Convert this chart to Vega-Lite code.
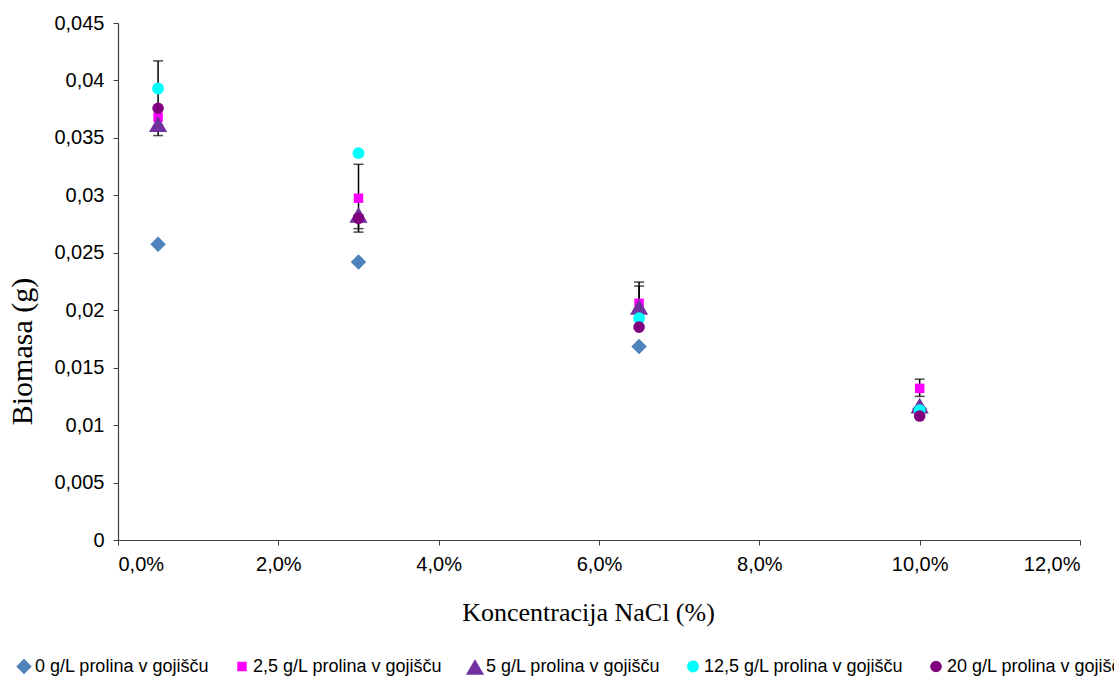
{
  "$schema": "https://vega.github.io/schema/vega-lite/v6.json",
  "autosize": {"type": "none"},
  "width": 962,
  "height": 517,
  "padding": {"left": 118, "top": 23, "right": 34, "bottom": 140},
  "background": "white",
  "config": {"view": {"stroke": null}, "font": "Liberation Sans"},
  "datasets": {
    "pts": [
      {"nacl": 0.005, "biomasa": 0.02575, "serija": "0 g/L prolina v gojišču"},
      {"nacl": 0.03, "biomasa": 0.0242, "serija": "0 g/L prolina v gojišču"},
      {"nacl": 0.065, "biomasa": 0.01685, "serija": "0 g/L prolina v gojišču"},
      {"nacl": 0.10, "biomasa": 0.0114, "serija": "0 g/L prolina v gojišču"},
      {"nacl": 0.005, "biomasa": 0.0368, "serija": "2,5 g/L prolina v gojišču"},
      {"nacl": 0.03, "biomasa": 0.02975, "serija": "2,5 g/L prolina v gojišču"},
      {"nacl": 0.065, "biomasa": 0.0206, "serija": "2,5 g/L prolina v gojišču"},
      {"nacl": 0.10, "biomasa": 0.0132, "serija": "2,5 g/L prolina v gojišču"},
      {"nacl": 0.005, "biomasa": 0.0362, "serija": "5 g/L prolina v gojišču"},
      {"nacl": 0.03, "biomasa": 0.0283, "serija": "5 g/L prolina v gojišču"},
      {"nacl": 0.065, "biomasa": 0.0203, "serija": "5 g/L prolina v gojišču"},
      {"nacl": 0.10, "biomasa": 0.0117, "serija": "5 g/L prolina v gojišču"},
      {"nacl": 0.005, "biomasa": 0.0393, "serija": "12,5 g/L prolina v gojišču"},
      {"nacl": 0.03, "biomasa": 0.03367, "serija": "12,5 g/L prolina v gojišču"},
      {"nacl": 0.065, "biomasa": 0.0193, "serija": "12,5 g/L prolina v gojišču"},
      {"nacl": 0.10, "biomasa": 0.0113, "serija": "12,5 g/L prolina v gojišču"},
      {"nacl": 0.005, "biomasa": 0.03758, "serija": "20 g/L prolina v gojišču"},
      {"nacl": 0.03, "biomasa": 0.0280, "serija": "20 g/L prolina v gojišču"},
      {"nacl": 0.065, "biomasa": 0.01853, "serija": "20 g/L prolina v gojišču"},
      {"nacl": 0.10, "biomasa": 0.01079, "serija": "20 g/L prolina v gojišču"}
    ],
    "err": [
      {"nacl": 0.005, "lo": 0.0352, "hi": 0.0417},
      {"nacl": 0.03, "lo": 0.0268, "hi": 0.0327},
      {"nacl": 0.03, "lo": 0.0271, "hi": 0.0283},
      {"nacl": 0.065, "lo": 0.0197, "hi": 0.02245},
      {"nacl": 0.065, "lo": 0.0197, "hi": 0.0221},
      {"nacl": 0.10, "lo": 0.0125, "hi": 0.0140}
    ]
  },
  "layer": [
    {
      "data": {"name": "err"},
      "mark": {"type": "rule", "color": "black", "strokeWidth": 1.5},
      "encoding": {
        "x": {"field": "nacl", "type": "quantitative"},
        "y": {"field": "lo", "type": "quantitative"},
        "y2": {"field": "hi"}
      }
    },
    {
      "data": {"name": "err"},
      "mark": {"type": "tick", "color": "black", "thickness": 1.5, "size": 10, "orient": "horizontal"},
      "encoding": {
        "x": {"field": "nacl", "type": "quantitative"},
        "y": {"field": "hi", "type": "quantitative"}
      }
    },
    {
      "data": {"name": "err"},
      "mark": {"type": "tick", "color": "black", "thickness": 1.5, "size": 10, "orient": "horizontal"},
      "encoding": {
        "x": {"field": "nacl", "type": "quantitative"},
        "y": {"field": "lo", "type": "quantitative"}
      }
    },
    {
      "data": {"name": "pts"},
      "mark": {"type": "point", "filled": true, "opacity": 1, "strokeWidth": 0},
      "encoding": {
        "x": {
          "field": "nacl", "type": "quantitative",
          "scale": {"domain": [0, 0.12], "nice": false, "zero": false},
          "axis": {
            "values": [0, 0.02, 0.04, 0.06, 0.08, 0.10, 0.12],
            "labelExpr": "replace(format(datum.value, '.1%'), '.', ',')",
            "grid": false, "domainColor": "#404040", "domainWidth": 1.2,
            "tickColor": "#404040", "tickSize": 5, "labelFontSize": 20, "labelColor": "black",
            "labelPadding": 9, "labelFont": "Liberation Sans",
            "title": "Koncentracija  NaCl (%)", "titleFont": "Liberation Serif", "titleFontSize": 26,
            "titleFontWeight": "normal", "titleColor": "black",
            "titleX": 470, "titleY": 72, "titleBaseline": "middle", "titleAnchor": "middle"
          }
        },
        "y": {
          "field": "biomasa", "type": "quantitative",
          "scale": {"domain": [0, 0.045], "nice": false},
          "axis": {
            "values": [0, 0.005, 0.01, 0.015, 0.02, 0.025, 0.03, 0.035, 0.04, 0.045],
            "labelExpr": "replace(format(datum.value, '.3~f'), '.', ',')",
            "grid": false, "domainColor": "#404040", "domainWidth": 1.2,
            "tickColor": "#404040", "tickSize": 5, "labelFontSize": 20, "labelColor": "black",
            "labelPadding": 9, "labelFont": "Liberation Sans",
            "title": "Biomasa  (g)", "titleFont": "Liberation Serif", "titleFontSize": 30,
            "titleFontWeight": "normal", "titleColor": "black",
            "titleX": -96, "titleY": 328, "titleBaseline": "middle", "titleAnchor": "middle"
          }
        },
        "color": {
          "field": "serija", "type": "nominal",
          "scale": {
            "domain": ["0 g/L prolina v gojišču", "2,5 g/L prolina v gojišču", "5 g/L prolina v gojišču", "12,5 g/L prolina v gojišču", "20 g/L prolina v gojišču"],
            "range": ["#4F81BD", "#FF00FF", "#7030A0", "#00FFFF", "#800080"]
          },
          "legend": {
            "orient": "none", "direction": "horizontal", "columns": 5,
            "legendX": -104, "legendY": 634, "title": null,
            "labelFontSize": 18, "labelFont": "Liberation Sans", "labelColor": "black",
            "labelOffset": 1, "columnPadding": 22, "labelLimit": 400,
            "symbolSize": 100
          }
        },
        "shape": {
          "field": "serija", "type": "nominal",
          "scale": {
            "domain": ["0 g/L prolina v gojišču", "2,5 g/L prolina v gojišču", "5 g/L prolina v gojišču", "12,5 g/L prolina v gojišču", "20 g/L prolina v gojišču"],
            "range": ["diamond", "square", "triangle-up", "circle", "circle"]
          }
        },
        "size": {
          "field": "serija", "type": "nominal",
          "legend": null,
          "scale": {
            "type": "ordinal",
            "domain": ["0 g/L prolina v gojišču", "2,5 g/L prolina v gojišču", "5 g/L prolina v gojišču", "12,5 g/L prolina v gojišču", "20 g/L prolina v gojišču"],
            "range": [240, 90, 330, 140, 135]
          }
        }
      }
    }
  ]
}
